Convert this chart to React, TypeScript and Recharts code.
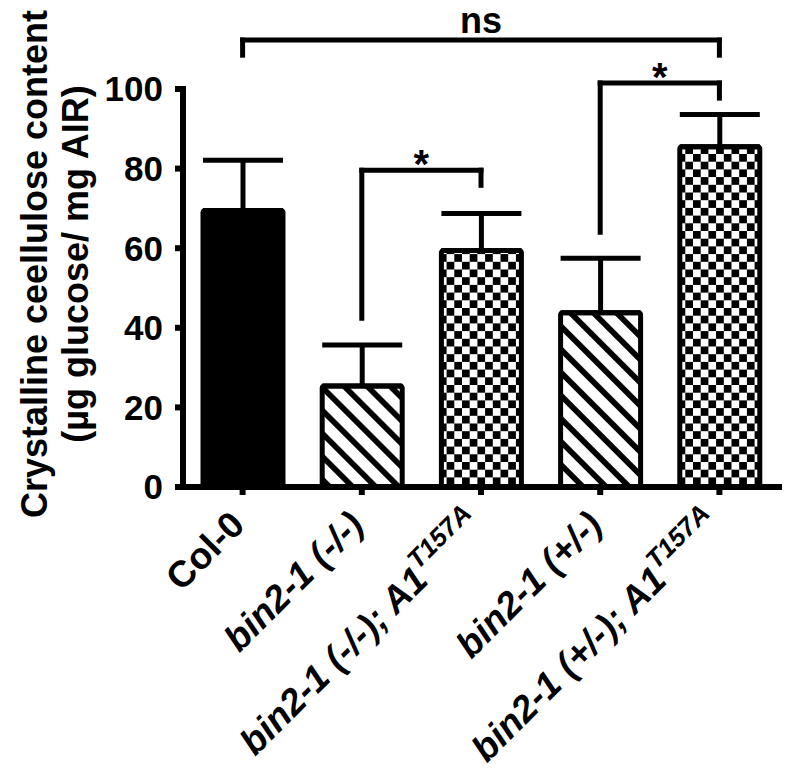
import React from "react";
import { BarChart, Bar, XAxis, YAxis, ErrorBar, Cell, ReferenceLine } from "recharts";

const categories = ["Col-0", "bin2-1 (-/-)", "bin2-1 (-/-); A1", "bin2-1 (+/-)", "bin2-1 (+/-); A1"];
const superscripts = ["", "", "T157A", "", "T157A"];
const means = [69.5, 25.4, 59.4, 43.8, 85.5];
const errorsUp = [12.6, 10.3, 9.3, 13.7, 8.1];
const yTicks = [0, 20, 40, 60, 80, 100];

// significance brackets (indices into categories, y values in data units)
const bracketFrom = [1, 3, 0];
const bracketTo = [2, 4, 4];
const bracketLeftEnd = [42.4, 64, 108.5];
const bracketRightEnd = [75.8, 97.7, 108.5];
const bracketTop = [79.6, 101.5, 112.3];
const bracketMark = ["*", "*", "ns"];

const FONT = '"Liberation Sans", Arial, sans-serif';
const barFills = ["#000", "url(#hatch)", "url(#checker)", "url(#hatch)", "url(#checker)"];

const data = categories.map((name, i) => ({ name, value: means[i], err: [0, errorsUp[i]] }));

function XTick(props: any) {
  const { x, y, payload } = props;
  const i = categories.indexOf(payload.value);
  return (
    <g transform={`translate(${x + 4},${y + 30})`}>
      <text
        transform="rotate(-45)"
        textAnchor="end"
        fill="#000"
        fontFamily={FONT}
        fontSize={37}
        fontWeight="bold"
        fontStyle={i > 0 ? "italic" : "normal"}
      >
        {payload.value}
        {superscripts[i] ? (
          <tspan fontSize={26} dy={-17}>
            {superscripts[i]}
          </tspan>
        ) : null}
      </text>
    </g>
  );
}

function YLabel(props: any) {
  const { viewBox } = props;
  const cy = viewBox.y + viewBox.height / 2 - 24;
  const x1 = viewBox.x + 34;
  const x2 = viewBox.x + 75;
  const style = { fill: "#000", fontFamily: FONT, fontSize: 36, fontWeight: "bold" as const };
  return (
    <g>
      <text x={x1} y={cy} transform={`rotate(-90 ${x1} ${cy})`} textAnchor="middle" dominantBaseline="central" style={style}>
        Crystalline ceellulose content
      </text>
      <text x={x2} y={cy} transform={`rotate(-90 ${x2} ${cy})`} textAnchor="middle" dominantBaseline="central" style={style}>
        (µg glucose/ mg AIR)
      </text>
    </g>
  );
}

const lineStyle = { stroke: "#000", strokeWidth: 5, strokeLinecap: "square" as const };

export default function App() {
  return (
    <div style={{ position: "absolute", left: 0, top: 0, background: "#fff" }}>
      <BarChart width={787} height={780} data={data} margin={{ top: 89, right: 8, bottom: 0, left: 0 }}>
        <defs>
          <pattern id="hatch" patternUnits="userSpaceOnUse" width={16.3} height={16.3} patternTransform="rotate(-45)">
            <rect width={16.3} height={16.3} fill="#fff" />
            <rect width={5.7} height={16.3} fill="#000" />
          </pattern>
          <pattern id="checker" patternUnits="userSpaceOnUse" width={15.4} height={15.4}>
            <rect width={15.4} height={15.4} fill="#fff" />
            <rect width={7.7} height={7.7} fill="#000" />
            <rect x={7.7} y={7.7} width={7.7} height={7.7} fill="#000" />
          </pattern>
        </defs>
        <XAxis
          dataKey="name"
          height={293}
          interval={0}
          tick={<XTick />}
          tickSize={8}
          tickLine={{ stroke: "#000", strokeWidth: 6 }}
          axisLine={{ stroke: "#000", strokeWidth: 6, strokeLinecap: "square" }}
        />
        <YAxis
          width={183}
          domain={[0, 100]}
          ticks={yTicks}
          tickSize={8}
          tickMargin={12}
          tick={{ fill: "#000", fontSize: 35, fontWeight: "bold", fontFamily: FONT }}
          tickLine={{ stroke: "#000", strokeWidth: 6 }}
          axisLine={{ stroke: "#000", strokeWidth: 6, strokeLinecap: "square" }}
          label={<YLabel />}
        />
        <Bar dataKey="value" barSize={80} stroke="#000" strokeWidth={5} radius={2} isAnimationActive={false}>
          {data.map((d, i) => (
            <Cell key={d.name} fill={barFills[i]} />
          ))}
          <ErrorBar dataKey="err" width={40} strokeWidth={5} stroke="#000" direction="y" isAnimationActive={false} />
        </Bar>
        {bracketMark.map((mark, k) => {
          const a = categories[bracketFrom[k]];
          const b = categories[bracketTo[k]];
          const top = bracketTop[k];
          return [
            <ReferenceLine
              key={`l${k}`}
              ifOverflow="visible"
              segment={[{ x: a, y: bracketLeftEnd[k] }, { x: a, y: top }]}
              {...lineStyle}
            />,
            <ReferenceLine
              key={`h${k}`}
              ifOverflow="visible"
              segment={[{ x: a, y: top }, { x: b, y: top }]}
              {...lineStyle}
              label={{
                value: mark,
                position: "top",
                offset: mark === "ns" ? 7 : -8,
                fill: "#000",
                fontSize: mark === "ns" ? 36 : 40,
                fontWeight: "bold",
                fontFamily: FONT,
              }}
            />,
            <ReferenceLine
              key={`r${k}`}
              ifOverflow="visible"
              segment={[{ x: b, y: top }, { x: b, y: bracketRightEnd[k] }]}
              {...lineStyle}
            />,
          ];
        })}
      </BarChart>
    </div>
  );
}
